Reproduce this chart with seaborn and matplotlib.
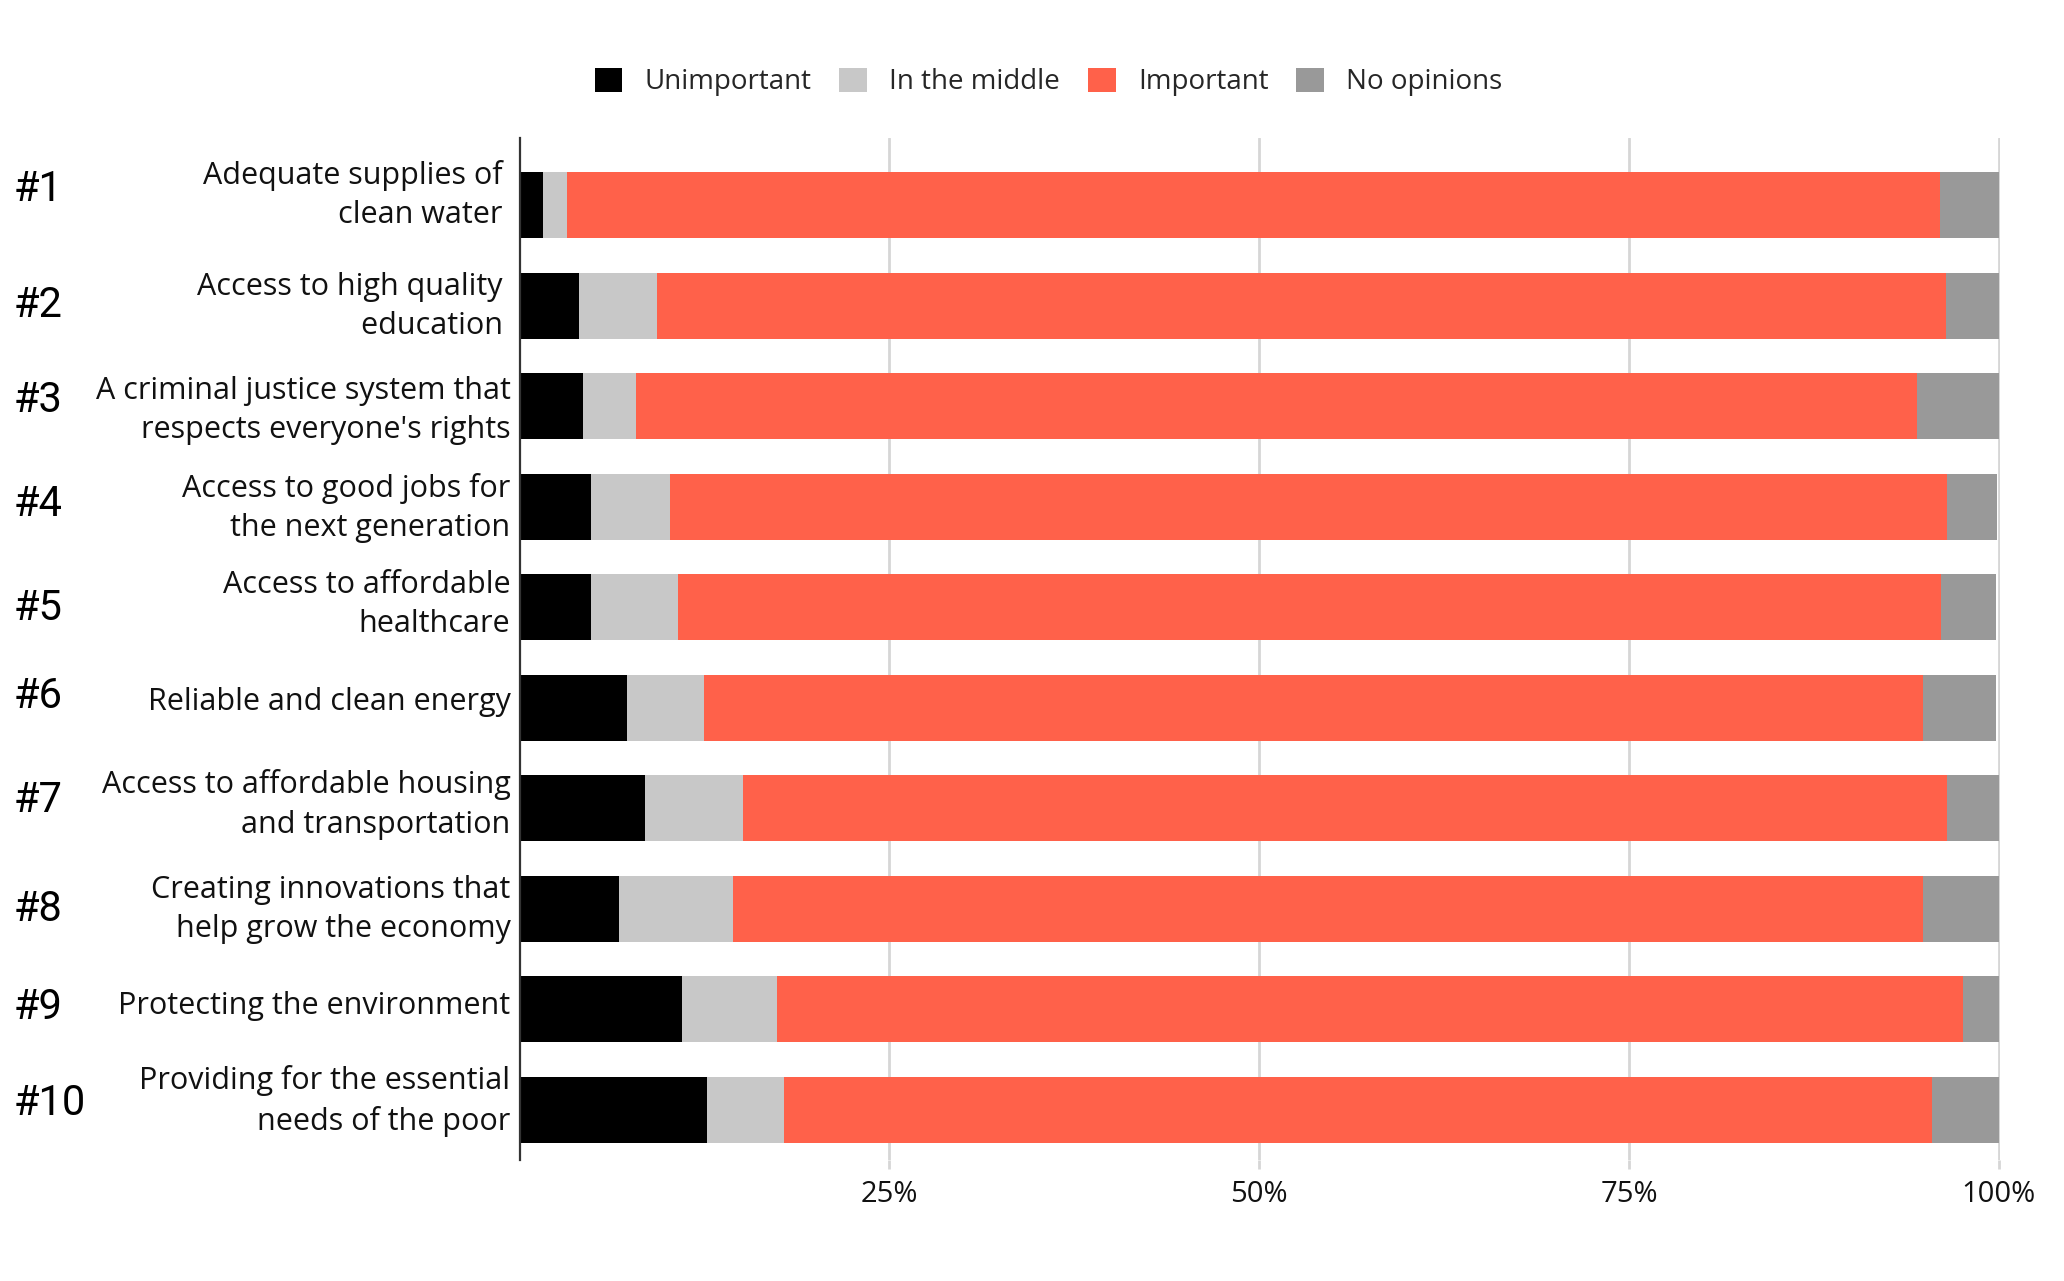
import matplotlib
matplotlib.use("Agg")
import matplotlib.pyplot as plt
import matplotlib.transforms as mtransforms
from matplotlib.patches import Patch
import pandas as pd
import seaborn as sns

# Survey: how important is each issue (share of respondents, %)
ranks = ["#1", "#2", "#3", "#4", "#5", "#6", "#7", "#8", "#9", "#10"]
topics = [
    "Adequate supplies of \nclean water ",
    "Access to high quality \neducation ",
    "A criminal justice system that\nrespects everyone's rights",
    "Access to good jobs for\nthe next generation",
    "Access to affordable\nhealthcare",
    "Reliable and clean energy",
    "Access to affordable housing\nand transportation",
    "Creating innovations that\nhelp grow the economy",
    "Protecting the environment",
    "Providing for the essential\nneeds of the poor",
]
unimportant = [1.6, 4.0, 4.3, 4.8, 4.8, 7.3, 8.5, 6.7, 11.0, 12.7]
in_the_middle = [1.6, 5.3, 3.6, 5.4, 5.9, 5.2, 6.6, 7.7, 6.4, 5.2]
important = [92.8, 87.1, 86.6, 86.3, 85.4, 82.4, 81.4, 80.5, 80.2, 77.6]
no_opinions = [4.0, 3.6, 5.5, 3.4, 3.7, 4.9, 3.5, 5.1, 2.4, 4.5]

series_names = ["Unimportant", "In the middle", "Important", "No opinions"]
series_colors = ["#000000", "#C8C8C8", "#FF614A", "#999999"]
x_ticks = [25, 50, 75, 100]
x_tick_labels = ["25%", "50%", "75%", "100%"]

# vertical nudge of each rank number relative to its bar (category units)
rank_nudge = [-0.16, 0.0, -0.06, -0.02, 0.01, -0.11, -0.08, 0.01, -0.02, -0.06]
# upward shift of each topic label (points)
label_nudge = [13.3, 5.2, 2.9, 5.2, 8.1, 6.6, 8.5, 5.2, 4.8, 12.3]

sns.set_theme(style="white")
plt.rcParams["font.family"] = ["Open Sans", "DejaVu Sans"]

df = pd.DataFrame({
    "topic": topics,
    "Unimportant": unimportant,
    "In the middle": in_the_middle,
    "Important": important,
    "No opinions": no_opinions,
})
# cumulative right edge of every segment, for stacking
stack = df[series_names].cumsum(axis=1)
stack["topic"] = df["topic"]

fig = plt.figure(figsize=(20.64, 12.81), dpi=100)
ax = fig.add_axes([0.2517, 0.0945, 0.7173, 0.7978])

# paint from the outermost edge inwards so each segment shows its own span
for name, color in reversed(list(zip(series_names, series_colors))):
    sns.barplot(data=stack, x=name, y="topic", orient="h", color=color,
                saturation=1, width=0.656, linewidth=0, ax=ax)

ax.set_xlim(0, 100.08)
ax.set_ylim(9.5, -0.67)
ax.set_xlabel("")
ax.set_ylabel("")

ax.set_xticks(x_ticks)
ax.set_xticklabels(x_tick_labels)
ax.xaxis.grid(True, color="#D6D6D6", linewidth=2)
ax.yaxis.grid(False)
ax.set_axisbelow(True)

ax.tick_params(axis="x", bottom=True, length=6.5, width=2, color="#D6D6D6",
               pad=8, labelsize=21, labelcolor="#111111")
ax.tick_params(axis="y", left=False, length=0, pad=6.5, labelsize=22,
               labelcolor="#111111")
for lab, dy in zip(ax.get_yticklabels(), label_nudge):
    lab.set_linespacing(1.4)
    lab.set_transform(lab.get_transform()
                      + mtransforms.ScaledTranslation(0, dy / 72, fig.dpi_scale_trans))

for side in ("top", "right", "bottom"):
    ax.spines[side].set_visible(False)
ax.spines["left"].set_color("#333333")
ax.spines["left"].set_linewidth(1.6)

# rank numbers at the far left
trans = mtransforms.blended_transform_factory(fig.transFigure, ax.transData)
for i, (r, dy) in enumerate(zip(ranks, rank_nudge)):
    ax.text(0.0068, i + dy, r, transform=trans, ha="left", va="center",
            fontsize=30, family=["Roboto", "DejaVu Sans"], fontweight="normal",
            color="#000000")

handles = [Patch(facecolor=c, edgecolor="none", label=n)
           for n, c in zip(series_names, series_colors)]
fig.legend(handles=handles, loc="center", bbox_to_anchor=(0.508, 0.936),
           ncol=4, frameon=False, fontsize=20, handlelength=1.0,
           handleheight=1.0, handletextpad=0.8, columnspacing=1.0)

fig.savefig("out.png", dpi=100)
